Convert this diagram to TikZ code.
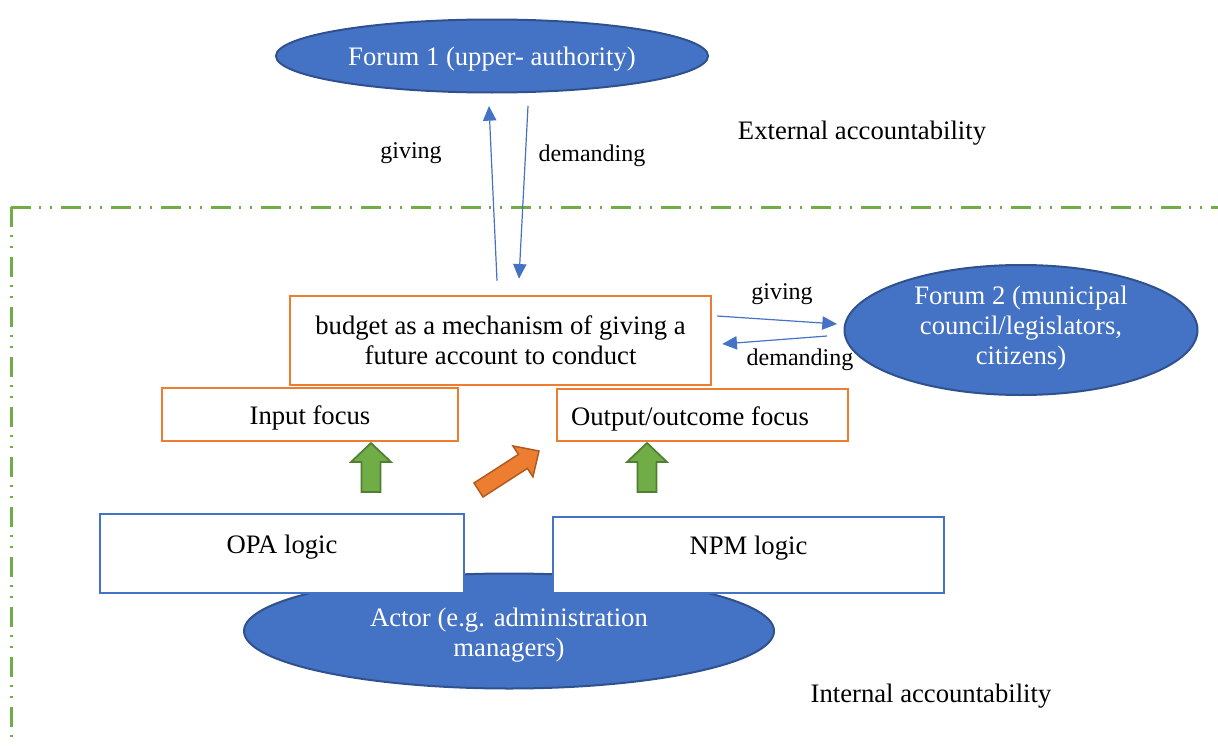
\documentclass[tikz,border=0pt]{standalone}
\usepackage{fontspec}
\setmainfont{Liberation Serif}
\usetikzlibrary{shapes.geometric,arrows.meta,calc}
\definecolor{fblue}{HTML}{4472C4}
\definecolor{dblue}{HTML}{2F528F}
\definecolor{orng}{HTML}{ED7D31}
\definecolor{dorng}{HTML}{AE5A21}
\definecolor{grn}{HTML}{70AD47}
\definecolor{dgrn}{HTML}{507E32}
\tikzset{
  forum/.style={ellipse, draw=dblue, line width=1.5pt, fill=fblue, text=white, inner sep=0pt, align=center, font=\fontsize{20}{22.5}\selectfont},
  obox/.style={rectangle, draw=orng, line width=1.9pt, fill=white, inner sep=0pt, align=center, font=\fontsize{20}{22.5}\selectfont},
  bbox/.style={rectangle, draw=fblue, line width=1.9pt, fill=white, inner sep=0pt, align=center, font=\fontsize{20}{22.5}\selectfont},
  conn/.style={draw=fblue, line width=0.9pt, -{Triangle[length=11pt,width=10pt]}},
  lbl/.style={inner sep=0pt, font=\fontsize{18}{20}\selectfont},
  biglbl/.style={inner sep=0pt, align=center, font=\fontsize{20}{22.5}\selectfont},
  wlbl/.style={biglbl, text=white},
  grnline/.style={draw=grn, line width=2.25pt, dash pattern=on 15pt off 6pt on 1.5pt off 6.75pt on 1.5pt off 6.75pt},
  uparrow/.style={fill=grn, draw=dgrn, line width=1.3pt, line join=miter},
  diagarrow/.style={fill=orng, draw=dorng, line width=1.1pt, line join=miter}
}
\begin{document}
\begin{tikzpicture}[x=0.75pt, y=-0.75pt]
\useasboundingbox (0,0) rectangle (1218,746);
% boundary
\draw[grnline] (11,207) -- (1218,207);
\draw[grnline] (11,207) -- (11,746);
% forums
\node[forum, minimum width=324pt, minimum height=54.75pt, label={[wlbl, yshift=-2.2pt]center:Forum 1 (upper- authority)}] (f1) at (492,56) {};
\node[forum, minimum width=264.75pt, minimum height=97.5pt, label={[wlbl, yshift=1.5pt]center:Forum 2 (municipal\\council/legislators,\\citizens)}] (f2) at (1021,330) {};
% actor
\node[forum, minimum width=397.5pt, minimum height=86.25pt, label={[wlbl, yshift=-2.8pt]center:Actor (e.g. administration\\managers)}] (actor) at (509,631) {};
% boxes
\node[obox, minimum width=315.75pt, minimum height=66.75pt] (budget) at (500.5,340.5) {budget as a mechanism of giving a\\future account to conduct};
\node[obox, minimum width=222pt, minimum height=39.75pt, label={[biglbl, yshift=-2.5pt]center:Input focus}] (input) at (310,414.5) {};
\node[obox, minimum width=218.25pt, minimum height=39pt] (output) at (702.5,415) {};
\node[biglbl] (outputtxt) at (690,418.5) {Output/outcome focus};
\node[bbox, minimum width=273pt, minimum height=59.25pt, label={[biglbl, yshift=4.9pt]center:OPA logic}] (opa) at (282,553.5) {};
\node[bbox, minimum width=293.25pt, minimum height=57pt, label={[biglbl, yshift=5.2pt]center:NPM logic}] (npm) at (748.5,555) {};
% vertical connectors
\draw[conn] ($(budget.north)+(-3.5,-14)$) -- ($(f1.south)+(-3,12.5)$);
\draw[conn] ($(f1.south)+(36,12.5)$) -- ($(budget.north)+(18.5,-16)$);
\node[lbl] (g1) at (411,153) {giving};
\node[lbl] (d1) at (592,156) {demanding};
\node[biglbl] (ext) at (862,133) {External accountability};
% horizontal connectors
\draw[conn] ($(budget.east)+(5,-24.5)$) -- ($(f2.west)+(-6.5,-6)$);
\draw[conn] ($(f2.west)+(-16.5,6)$) -- ($(budget.east)+(10,3.5)$);
\node[lbl] (g2) at (782,294) {giving};
\node[lbl] (d2) at (800,360) {demanding};
\node[biglbl] (int) at (931,696) {Internal accountability};
% green block arrows
\draw[uparrow] (361.5,492) -- (380.5,492) -- (380.5,462) -- (391,462) -- (371,443) -- (351,462) -- (361.5,462) -- cycle;
\draw[uparrow] (637.5,492) -- (656.5,492) -- (656.5,462) -- (667,462) -- (647,443) -- (627,462) -- (637.5,462) -- cycle;
% orange diagonal arrow
\draw[diagarrow] (474,483) -- (518.4,454.4) -- (512.9,445.9) -- (539,451) -- (532.9,476.9) -- (527.4,468.4) -- (483,497) -- cycle;
\end{tikzpicture}
\end{document}
